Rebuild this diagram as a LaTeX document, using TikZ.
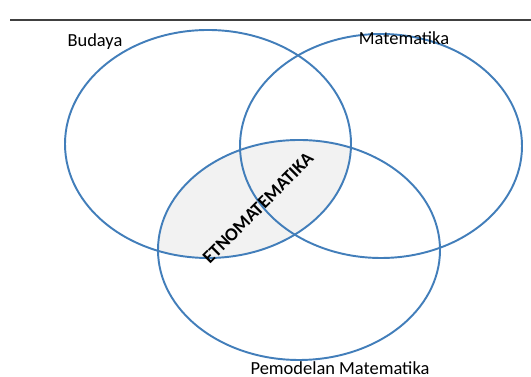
\documentclass[tikz,border=0pt]{standalone}
\usepackage{fontspec}
\setmainfont{Carlito}
\definecolor{ringblue}{RGB}{66,126,186}
\begin{document}
\begin{tikzpicture}[x=0.02cm, y=-0.02cm, every node/.style={font=\fontsize{10.5}{12}\selectfont}]
	\useasboundingbox (0,0) rectangle (531,377);
	\draw[black!75, line width=0.6pt] (10,20) -- (531,20);
	% shaded lens
	\begin{scope}
		\clip (208,144) ellipse (143 and 114);
		\fill[black!5] (299,250) ellipse (141 and 110);
	\end{scope}
	\draw[ringblue, line width=1.1pt] (208,144) ellipse (143 and 114);
	\draw[ringblue, line width=1.1pt] (381,146) ellipse (141 and 112);
	\draw[ringblue, line width=1.1pt] (299,250) ellipse (141 and 110);
	\node (budaya) at (95,42) {Budaya};
	\node (mat) at (404,38) {Matematika};
	\node (pemod) at (340,368) {Pemodelan Matematika};
	\node[rotate=45, font=\fontsize{10.5}{12}\selectfont\bfseries] (etno) at (258,208) {ETNOMATEMATIKA};
\end{tikzpicture}
\end{document}
